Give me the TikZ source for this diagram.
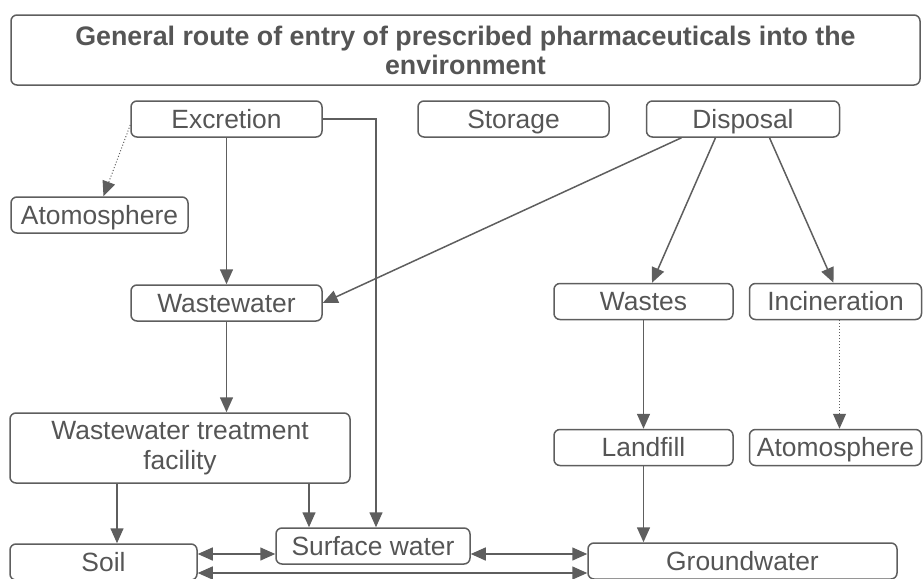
\documentclass[tikz,border=0pt]{standalone}
\usepackage{fontspec}
\setmainfont{Liberation Sans}
\usetikzlibrary{positioning,arrows.meta}

\definecolor{linegray}{HTML}{5E5E5E}
\definecolor{textgray}{HTML}{555555}

\begin{document}
\begin{tikzpicture}[
    x=0.5pt, y=-0.5pt, % one unit = one pixel of the page
    line width=0.75pt,
    base/.style={rectangle, rounded corners=3pt, draw=linegray, text=textgray,
        minimum height=18pt, inner sep=0pt, align=center,
        font=\fontsize{13.2}{15}\selectfont},
    stage/.style={base, text height=9.4pt, text depth=0pt},
    arrow/.style={-{Triangle[width=6.5pt,length=7.5pt]}, draw=linegray},
    biarrow/.style={{Triangle[width=6.5pt,length=7.5pt]}-{Triangle[width=6.5pt,length=7.5pt]}, draw=linegray},
    dotarrow/.style={arrow, densely dotted, line width=0.5pt}
]
\useasboundingbox (0,0) rectangle (923,579);

\node[base, minimum width=454.5pt, minimum height=35pt, font=\fontsize{13.4}{14.5}\selectfont\bfseries]
    (title) at (465.5,50) {General route of entry of prescribed pharmaceuticals into the\\environment};

% sources
\node[stage, minimum width=95.5pt] (excr) at (226.5,119) {Excretion};
\node[stage, minimum width=95.5pt] (stor) at (513.5,119) {Storage};
\node[stage, minimum width=96.5pt, right=18pt of stor] (disp) {Disposal};
\node[stage, minimum width=88.5pt] (atmoA) at (99.5,215) {Atomosphere};

\node[stage, minimum width=95.5pt] (ww) at (226.5,303) {Wastewater};
\node[stage, minimum width=89.5pt] (wastes) at (643.5,301.5) {Wastes};
\node[stage, minimum width=86pt, right=7.5pt of wastes] (incin) {Incineration};

\node[base, minimum width=170pt, minimum height=35pt] (wwtf) at (180,448) {Wastewater treatment\\facility};
\node[stage, minimum width=89.5pt] (landfill) at (643.5,447.5) {Landfill};
\node[stage, minimum width=86pt, right=7.5pt of landfill] (atmoB) {Atomosphere};

% sinks
\node[stage, minimum width=93.5pt] (soil) at (103.5,562) {Soil};
\node[stage, minimum width=97pt] (surf) at (373,546) {Surface water};
\node[stage, minimum width=154.5pt] (ground) at (742.5,561) {Groundwater};

\draw[arrow] (excr.south) -- (ww.north);
\draw[arrow] (excr.east) -| ([xshift=1.5pt]surf.north);
\draw[dotarrow] ([yshift=-3pt]excr.west) -- ([xshift=2pt]atmoA.north);

\draw[arrow] ([xshift=-30.75pt]disp.south) -- (ww.east);
\draw[arrow] ([xshift=-13.75pt]disp.south) -- ([xshift=4.25pt]wastes.north);
\draw[arrow] ([xshift=13.25pt]disp.south) -- ([xshift=-1pt]incin.north);

\draw[arrow] (ww.south) -- (ww.south |- wwtf.north);
\draw[arrow] ([xshift=6.75pt]soil.north |- wwtf.south) -- ([xshift=6.75pt]soil.north);
\draw[arrow] ([xshift=-32pt]surf.north |- wwtf.south) -- ([xshift=-32pt]surf.north);

\draw[arrow] (wastes.south) -- (landfill.north);
\draw[dotarrow] ([xshift=2pt]incin.south) -- ([xshift=2pt]atmoB.north);
\draw[arrow] (landfill.south) -- (landfill.south |- ground.north);

\draw[biarrow] ([yshift=-4pt]surf.west -| soil.east) -- ([yshift=-4pt]surf.west);
\draw[biarrow] ([yshift=-4pt]surf.east) -- ([yshift=-4pt]surf.east -| ground.west);
\draw[biarrow] ([yshift=-5.5pt]soil.east) -- ([yshift=-5.5pt]soil.east -| ground.west);

\end{tikzpicture}
\end{document}
